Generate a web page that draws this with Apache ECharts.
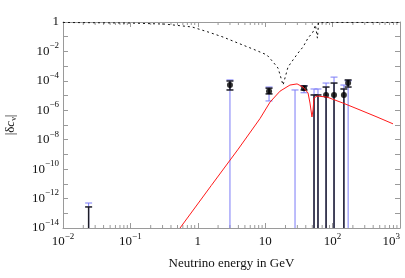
<!DOCTYPE html>
<html>
<head>
<meta charset="utf-8">
<script src="https://cdn.jsdelivr.net/npm/echarts@6/dist/echarts.min.js"></script>
<style>html,body{margin:0;padding:0;background:#fff}#c{width:405px;height:278px}</style>
</head>
<body>
<div id="c"></div>
<script>
// ---- data ----
const energies   = [0.024, 3.0, 11.4, 27.7, 37.7, 53, 60.7, 80, 105, 147, 170];
const blueLow    = [1e-14, 1e-14, 4.3e-6, 1e-14, 1.55e-5, 1e-14, 1e-14, 1e-14, 1e-14, 1e-14, 1e-14];
const blueHigh   = [5e-13, 1.15e-4, 3.8e-5, 2.4e-5, 4.7e-5, 2.8e-5, 2.8e-5, 7.1e-5, 1.8e-4, 5.2e-5, 1.0e-4];
const blackLow   = [1e-14, 2.4e-5, 1.3e-5, null, 2.4e-5, 1e-14, 1e-14, 1e-14, 1e-14, 1e-14, 3.8e-5];
const blackHigh  = [2.7e-13, 9.8e-5, 3.2e-5, null, 4.5e-5, 1.1e-5, 1.1e-5, 3.8e-5, 7.1e-5, 2.8e-5, 1.15e-4];
const markers    = [null, 5.2e-5, 2.0e-5, null, 3.2e-5, null, null, 1.1e-5, 1.1e-5, 1.1e-5, 7.1e-5];

const redE   = [0.545, 1.58, 3.98, 8.38, 11.8, 16.6, 23.3, 29.7, 36.4, 43.2, 46.2, 49.4, 51.2, 53.0, 58.7, 82.6, 142.6, 255, 456, 787];
const redV   = [1e-14, 7.6e-12, 2.3e-9, 2.75e-7, 3.6e-6, 2.0e-5, 5.2e-5, 6.2e-5, 3.8e-5, 1.5e-5, 3.1e-6, 3.5e-7, 1.05e-6, 6.8e-6, 9.3e-6, 7.9e-6, 3.1e-6, 1.05e-6, 3.5e-7, 1.2e-7];

const dashE  = [0.01, 0.0986, 0.326, 0.82, 1.42, 2.37, 3.94, 6.59, 10.6, 13.1, 15.5, 17.2, 18.4, 21.8, 25.8, 30.7, 36.4, 43.2, 51.2, 55.6, 57.0, 57.5, 59.5, 62, 100, 300, 1000];
const dashV  = [0.93, 0.85, 0.72, 0.46, 0.21, 0.095, 0.037, 0.0145, 0.0058, 0.0019, 7.4e-4, 1.5e-4, 5.2e-5, 8.7e-4, 2.6e-3, 7.8e-3, 0.02, 0.081, 0.21, 0.63, 0.85, 0.5, 0.08, 0.9, 0.93, 0.93, 0.93];

const xTickExps = [-2, -1, 0, 1, 2, 3];
const yLabelExps = [0, -2, -4, -6, -8, -10, -12, -14];

// ---- helpers ----
const FONT = 'Liberation Serif';
const AXIS_COLOR = '#9a9a9a';
const Y_MIN = 1e-14, Y_MAX = 1;
function expLabel(e) {
  if (e === 0) return '{b|1}';
  if (e === 1) return '{b|10}';
  return '{b|10}{s|' + (e < 0 ? '\u2212' + (-e) : e) + '}';
}
const richLabel = {
  b: { fontFamily: FONT, fontSize: 13, color: '#111', lineHeight: 20 },
  s: { fontFamily: FONT, fontSize: 9, color: '#111', verticalAlign: 'top', lineHeight: 11 }
};

const minorX = [];
for (let k = -2; k <= 2; k++) for (let m = 2; m <= 9; m++) minorX.push([m * Math.pow(10, k)]);

const blueBars = [], blackBars = [], markerData = [];
energies.forEach((e, i) => {
  blueBars.push([e, blueLow[i], blueHigh[i]]);
  if (blackLow[i] != null) blackBars.push([e, blackLow[i], blackHigh[i]]);
  if (markers[i] != null) markerData.push([e, markers[i]]);
});

function errRender(color, width) {
  return function (params, api) {
    const x = api.value(0), lo = api.value(1), hi = api.value(2);
    const a = api.coord([x, lo]), b = api.coord([x, hi]);
    const st = { stroke: color, lineWidth: width };
    const half = 3.5;
    const ch = [
      { type: 'line', shape: { x1: a[0], y1: a[1], x2: b[0], y2: b[1] }, style: st },
      { type: 'line', shape: { x1: b[0] - half, y1: b[1], x2: b[0] + half, y2: b[1] }, style: st }
    ];
    if (lo > Y_MIN * 1.01) ch.push({ type: 'line', shape: { x1: a[0] - half, y1: a[1], x2: a[0] + half, y2: a[1] }, style: st });
    return { type: 'group', children: ch };
  };
}

const redData = redE.map((e, i) => [e, redV[i]]);
const dashData = dashE.map((e, i) => [e, dashV[i]]);

function xAxisDef(pos) {
  return {
    type: 'log', logBase: 10, min: 0.01, max: 1000, interval: 1, position: pos,
    axisLine: { show: true, lineStyle: { color: AXIS_COLOR, width: 1 } },
    axisTick: { show: true, inside: true, length: 5, lineStyle: { color: AXIS_COLOR } },
    splitLine: { show: false },
    axisLabel: pos === 'bottom' ? {
      show: true, margin: 4, hideOverlap: false, alignMaxLabel: 'right',
      formatter: v => expLabel(Math.round(Math.log10(v))),
      rich: richLabel
    } : { show: false }
  };
}
function yAxisDef(pos) {
  return {
    type: 'log', logBase: 10, min: Y_MIN, max: Y_MAX, interval: 1, position: pos,
    axisLine: { show: true, lineStyle: { color: AXIS_COLOR, width: 1 } },
    axisTick: { show: true, inside: true, length: 5, lineStyle: { color: AXIS_COLOR } },
    splitLine: { show: false },
    axisLabel: pos === 'left' ? {
      show: true, margin: 4, hideOverlap: false,
      formatter: v => { const e = Math.round(Math.log10(v)); return yLabelExps.indexOf(e) >= 0 ? expLabel(e) : ''; },
      rich: richLabel
    } : { show: false }
  };
}

const xa0 = xAxisDef('bottom');
xa0.name = 'Neutrino energy in GeV';
xa0.nameLocation = 'middle';
xa0.nameGap = 29;
xa0.nameTextStyle = { fontFamily: FONT, fontSize: 13, color: '#111' };
const ya0 = yAxisDef('left');
ya0.name = '|\u03b4{i|c}{s|\u03bd}|';
ya0.nameLocation = 'middle';
ya0.nameGap = 45;
ya0.nameRotate = 90;
ya0.nameTextStyle = {
  fontFamily: FONT, fontSize: 13, color: '#111',
  rich: {
    i: { fontFamily: FONT, fontSize: 13, fontStyle: 'italic', color: '#111' },
    s: { fontFamily: FONT, fontSize: 8, color: '#111', verticalAlign: 'bottom', lineHeight: 14 }
  }
};

const chart = echarts.init(document.getElementById('c'), null, { renderer: 'canvas' });
chart.setOption({
  animation: false,
  backgroundColor: '#fff',
  grid: { left: 63, right: 5, top: 22, bottom: 50, containLabel: false, outerBoundsMode: 'none' },
  xAxis: [xa0, xAxisDef('top')],
  yAxis: [ya0, yAxisDef('right')],
  series: [
    {
      type: 'custom', xAxisIndex: 0, yAxisIndex: 0, silent: true, clip: false,
      data: minorX,
      renderItem: function (params, api) {
        const x = api.value(0);
        const p = api.coord([x, Y_MIN]), q = api.coord([x, Y_MAX]);
        const st = { stroke: AXIS_COLOR, lineWidth: 1 };
        return { type: 'group', children: [
          { type: 'line', shape: { x1: p[0], y1: p[1], x2: p[0], y2: p[1] - 3 }, style: st },
          { type: 'line', shape: { x1: q[0], y1: q[1], x2: q[0], y2: q[1] + 3 }, style: st }
        ] };
      }
    },
    { type: 'custom', silent: true, data: blueBars, renderItem: errRender('#7b7bf7', 1) },
    { type: 'custom', silent: true, data: blackBars, renderItem: errRender('#1c1c28', 1.5) },
    {
      type: 'line', data: redData, showSymbol: false, symbol: 'none', silent: true,
      lineStyle: { color: '#ff1a1a', width: 1 }
    },
    {
      type: 'line', data: dashData, showSymbol: false, symbol: 'none', silent: true,
      lineStyle: { color: '#111', width: 1, type: [2, 3] }
    },
    {
      type: 'scatter', data: markerData, symbol: 'circle', symbolSize: 6, silent: true,
      itemStyle: { color: '#000' }
    }
  ]
});
</script>
</body>
</html>
